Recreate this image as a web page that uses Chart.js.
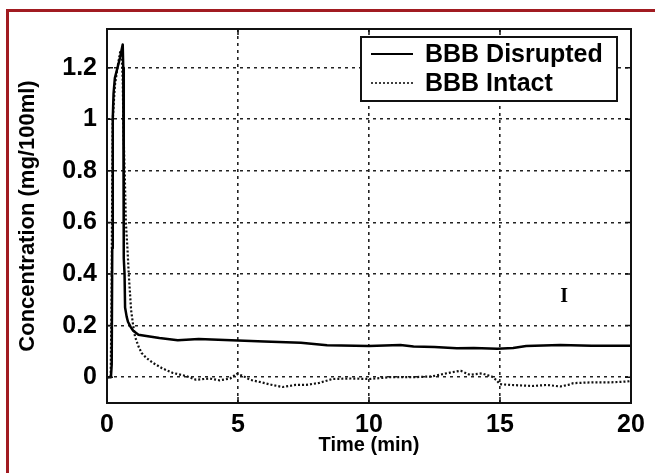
<!DOCTYPE html>
<html>
<head>
<meta charset="utf-8">
<script src="https://cdn.jsdelivr.net/npm/chart.js@4/dist/chart.umd.min.js"></script>
<style>
    html, body { margin: 0; padding: 0; background: #fff; overflow: hidden; }
    #wrap { position: relative; width: 655px; height: 473px; }
    #frame {
        position: absolute; left: 6px; top: 9px; width: 700px; height: 500px;
        border-top: 3px solid #a11b21; border-left: 3px solid #a11b21;
    }
    #grafico { position: absolute; left: 0; top: 0; }
</style>
</head>
<body>
<div id="wrap">
    <div id="frame"></div>
    <canvas id="grafico" width="655" height="473"></canvas>
</div>
<script>
// tempo (min) e concentração (mg/100ml)
const timeDisrupted = [0, 0.15, 0.18, 0.2, 0.22, 0.25, 0.3, 0.4, 0.5, 0.6, 0.62, 0.64, 0.67, 0.69, 0.75,
    0.8, 0.9, 1.0, 1.2, 1.5, 2.0, 2.7, 3.5, 5.0, 6.0, 7.4, 7.9, 8.4, 10.0, 11.2,
    11.7, 12.5, 13.35, 14.0, 14.9, 15.5, 16.0, 17.3, 18.5, 19.8, 20];
const concDisrupted = [0, 0, 0.05, 0.5, 1.0, 1.1, 1.16, 1.2, 1.24, 1.29, 1.2, 0.46, 0.4, 0.27, 0.235,
    0.215, 0.195, 0.18, 0.165, 0.16, 0.152, 0.143, 0.148, 0.142, 0.138, 0.134, 0.129, 0.124, 0.121, 0.125,
    0.119, 0.117, 0.112, 0.113, 0.11, 0.113, 0.121, 0.125, 0.122, 0.122, 0.122];

const timeIntact = [0, 0.14, 0.17, 0.19, 0.22, 0.3, 0.4, 0.5, 0.56, 0.6, 0.63, 0.68, 0.72, 0.78, 0.83,
    0.92, 1.0, 1.07, 1.2, 1.32, 1.5, 1.76, 2.1, 2.5, 3.0, 3.4, 3.9, 4.3, 4.7, 4.95,
    5.2, 5.45, 5.9, 6.3, 6.7, 7.2, 7.6, 8.1, 8.6, 9.3, 10.0, 10.8, 11.7, 12.4, 13.1,
    13.5, 13.85, 14.3, 14.7, 14.85, 15.0, 15.4, 16.25, 16.8, 17.3, 17.6, 17.8, 18.5, 19.2, 19.8, 20];
const concIntact = [0, 0, 0.26, 0.6, 1.0, 1.13, 1.2, 1.26, 1.25, 1.15, 0.95, 0.78, 0.6, 0.5, 0.4,
    0.26, 0.2, 0.157, 0.12, 0.094, 0.075, 0.055, 0.035, 0.017, 0.005, -0.01, -0.005, -0.012, -0.005, 0.013,
    0.005, -0.01, -0.02, -0.03, -0.038, -0.03, -0.03, -0.022, -0.007, -0.005, -0.007, 0, 0, 0.003, 0.018,
    0.025, 0.009, 0.015, 0.002, -0.01, -0.027, -0.03, -0.034, -0.03, -0.036, -0.03, -0.023, -0.02, -0.02, -0.017, -0.015];

const seriesLabels = ["BBB Disrupted", "BBB Intact"];
const xTickValues = [0, 5, 10, 15, 20];
const yTickValues = [0, 0.2, 0.4, 0.6, 0.8, 1, 1.2];
const yTickLabels = ["0", "0.2", "0.4", "0.6", "0.8", "1", "1.2"];
const xTitle = "Time (min)";
const yTitle = "Concentration (mg/100ml)";
const marker = { text: "I", x: 17.45, y: 0.31 };

const FONTE = "'Liberation Sans', Arial, sans-serif";

function pares(xs, ys) {
    return xs.map((x, i) => ({ x, y: ys[i] }));
}

// moldura estilo MATLAB: caixa, ticks internos, legenda e marcador
const molduraPlugin = {
    id: "moldura",
    afterDatasetsDraw(chart) {
        const { ctx, chartArea: a, scales } = chart;
        ctx.save();
        ctx.strokeStyle = "#111";
        ctx.lineWidth = 2;
        ctx.setLineDash([]);
        ctx.strokeRect(a.left, a.top, a.right - a.left, a.bottom - a.top);

        const tl = 6;
        ctx.lineWidth = 1.5;
        ctx.beginPath();
        xTickValues.forEach((v) => {
            const px = scales.x.getPixelForValue(v);
            ctx.moveTo(px, a.bottom); ctx.lineTo(px, a.bottom - tl);
            ctx.moveTo(px, a.top); ctx.lineTo(px, a.top + tl);
        });
        yTickValues.forEach((v) => {
            const py = scales.y.getPixelForValue(v);
            ctx.moveTo(a.left, py); ctx.lineTo(a.left + tl, py);
            ctx.moveTo(a.right, py); ctx.lineTo(a.right - tl, py);
        });
        ctx.stroke();

        // legenda
        const bx = a.right - 270, by = a.top + 8, bw = 256, bh = 64;
        ctx.fillStyle = "#fff";
        ctx.fillRect(bx, by, bw, bh);
        ctx.lineWidth = 2;
        ctx.strokeStyle = "#111";
        ctx.strokeRect(bx, by, bw, bh);
        ctx.font = "bold 25px " + FONTE;
        ctx.textBaseline = "middle";
        ctx.fillStyle = "#000";
        chart.data.datasets.forEach((ds, i) => {
            const ly = by + 17 + i * 29;
            ctx.save();
            ctx.strokeStyle = "#000";
            ctx.lineWidth = i === 0 ? 2 : 1.5;
            ctx.setLineDash(ds.borderDash || []);
            ctx.beginPath();
            ctx.moveTo(bx + 10, ly);
            ctx.lineTo(bx + 52, ly);
            ctx.stroke();
            ctx.restore();
            ctx.fillText(ds.label, bx + 64, ly + 1);
        });

        // marcador "I"
        ctx.font = "bold 20px 'Liberation Serif', serif";
        ctx.textAlign = "center";
        ctx.fillText(marker.text, scales.x.getPixelForValue(marker.x), scales.y.getPixelForValue(marker.y));
        ctx.restore();
    },
};

function renderGrafico() {
    const ctx = document.getElementById("grafico");

    new Chart(ctx, {
        type: "line",
        data: {
            datasets: [
                {
                    label: seriesLabels[0],
                    data: pares(timeDisrupted, concDisrupted),
                    borderColor: "#000",
                    borderWidth: 2.5,
                    borderJoinStyle: "round",
                    pointRadius: 0,
                    tension: 0,
                },
                {
                    label: seriesLabels[1],
                    data: pares(timeIntact, concIntact),
                    borderColor: "#111",
                    borderWidth: 2.2,
                    borderDash: [2, 2],
                    borderJoinStyle: "round",
                    pointRadius: 0,
                    tension: 0,
                },
            ],
        },
        options: {
            responsive: false,
            animation: false,
            layout: { padding: { top: 29, right: 24, left: 0, bottom: 0 } },
            plugins: {
                legend: { display: false },
                tooltip: { enabled: false },
            },
            scales: {
                x: {
                    type: "linear",
                    min: 0,
                    max: 20,
                    afterBuildTicks: (s) => { s.ticks = xTickValues.map((v) => ({ value: v })); },
                    afterFit: (s) => { s.height = 70; },
                    ticks: {
                        color: "#000",
                        padding: 7,
                        maxRotation: 0,
                        font: { family: FONTE, size: 25, weight: "bold" },
                    },
                    grid: { color: "#222", lineWidth: 1.6, drawTicks: false },
                    border: { display: false, dash: [3, 4] },
                    title: {
                        display: true,
                        text: xTitle,
                        color: "#000",
                        font: { family: FONTE, size: 20, weight: "bold" },
                        padding: { top: 0, bottom: 16 },
                    },
                },
                y: {
                    min: -0.1,
                    max: 1.35,
                    afterBuildTicks: (s) => { s.ticks = yTickValues.map((v) => ({ value: v })); },
                    afterFit: (s) => { s.width = 107; },
                    ticks: {
                        color: "#000",
                        padding: 10,
                        font: { family: FONTE, size: 25, weight: "bold" },
                        callback: (v) => yTickLabels[yTickValues.indexOf(v)] ?? "",
                    },
                    grid: { color: "#222", lineWidth: 1.6, drawTicks: false },
                    border: { display: false, dash: [3, 4] },
                    title: {
                        display: true,
                        text: yTitle,
                        color: "#000",
                        font: { family: FONTE, size: 22, weight: "bold" },
                        padding: { top: 15, bottom: 0 },
                    },
                },
            },
        },
        plugins: [molduraPlugin],
    });
}

renderGrafico();
</script>
</body>
</html>
